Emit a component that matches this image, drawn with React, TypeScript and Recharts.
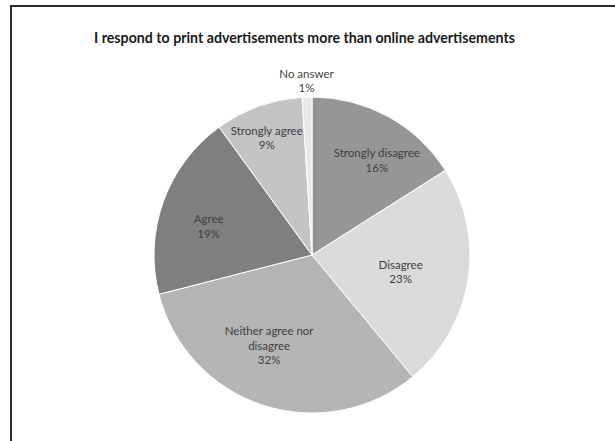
import React from 'react'
import { PieChart, Pie, Cell } from 'recharts'

const categories = ['Strongly disagree', 'Disagree', 'Neither agree nor disagree', 'Agree', 'Strongly agree', 'No answer']
const shares = [16, 23, 32, 19, 9, 1]
const sliceColors = ['#969696', '#dadada', '#b4b4b4', '#7f7f7f', '#c3c3c3', '#e8e8e8']

// label placement (Excel best-fit look): radius as fraction of pie radius, and clockwise turn in degrees
const labelRadius = [0.73, 0.57, 0.63, 0.68, 0.8]
const labelTurn = [5.4, 1.2, 7.5, -4, -1.2]

const TITLE = 'I respond to print advertisements more than online advertisements'
const FONT = 'Lato, "Open Sans", sans-serif'

const data = categories.map((name, i) => ({ name, value: shares[i] }))

const wrapName = (name: string) => (name.length > 20 ? ['Neither agree nor', 'disagree'] : [name])

const renderLabel = (props: any) => {
  const { cx, cy, midAngle, outerRadius, percent, name, index } = props
  const RAD = Math.PI / 180
  const inside = index < labelRadius.length
  const r = inside ? outerRadius * labelRadius[index] : outerRadius + 17
  const a = inside ? midAngle - labelTurn[index] : midAngle
  const x = cx + r * Math.cos(-a * RAD)
  const y = cy + r * Math.sin(-a * RAD)
  const lines = [...wrapName(name), `${Math.round(percent * 100)}%`]
  const lh = 14.5
  const top = y - ((lines.length - 1) * lh) / 2
  return (
    <text x={x} y={top} textAnchor="middle" dominantBaseline="central" fill="#404040" fontSize={11.5} fontFamily={FONT}>
      {lines.map((l, i) => (
        <tspan key={i} x={x} dy={i === 0 ? 0 : lh}>
          {l}
        </tspan>
      ))}
    </text>
  )
}

export default function App() {
  return (
    <div style={{ position: 'absolute', left: 0, top: 0, width: 615, height: 441, background: '#fff', overflow: 'hidden' }}>
      <div
        style={{
          position: 'absolute',
          left: 10,
          top: 5,
          right: -4,
          bottom: -4,
          borderTop: '2px solid #2b2b2b',
          borderLeft: '2px solid #2b2b2b',
        }}
      />
      <div
        style={{
          position: 'absolute',
          left: 0,
          width: 609,
          top: 29,
          textAlign: 'center',
          fontFamily: FONT,
          fontWeight: 700,
          fontSize: 14.2,
          color: '#1a1a1a',
        }}
      >
        {TITLE}
      </div>
      <div style={{ position: 'absolute', left: 0, top: 0 }}>
        <PieChart width={615} height={441}>
          <Pie
            data={data}
            dataKey="value"
            nameKey="name"
            cx={307}
            cy={250}
            outerRadius={158}
            startAngle={90}
            endAngle={-270}
            stroke="#ffffff"
            strokeWidth={1}
            label={renderLabel}
            labelLine={false}
            isAnimationActive={false}
          >
            {data.map((_, i) => (
              <Cell key={`cell-${i}`} fill={sliceColors[i]} />
            ))}
          </Pie>
        </PieChart>
      </div>
    </div>
  )
}
